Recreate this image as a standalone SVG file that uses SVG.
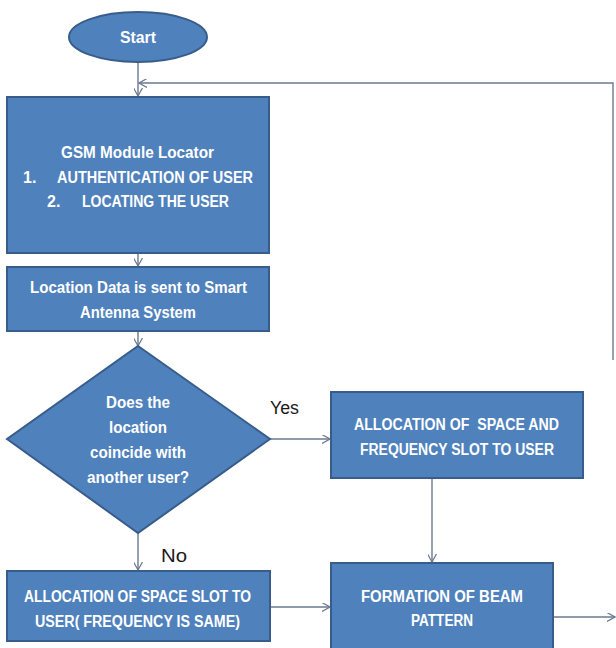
<svg xmlns="http://www.w3.org/2000/svg" width="616" height="648" viewBox="0 0 616 648">
<style>
.shape{fill:#4f81bd;stroke:#385d8a;stroke-width:2}
.t{font-family:"Liberation Sans",Arial,sans-serif;font-weight:bold;font-size:16px;fill:#ffffff;white-space:pre}
.lbl{font-family:"Liberation Sans",Arial,sans-serif;font-size:18px;fill:#1a1a1a}
.c{fill:none;stroke:#6b7a8f;stroke-width:1.4}
</style>
<defs>
<marker id="arr" viewBox="0 0 10 10" refX="9" refY="5" markerWidth="9" markerHeight="9" markerUnits="userSpaceOnUse" orient="auto">
<path d="M0,0 L9,5 L0,10" fill="none" stroke="#6b7a8f" stroke-width="1.4"/>
</marker>
</defs>
<rect width="616" height="648" fill="#ffffff"/>
<g id="connectors">
<path class="c" d="M138,63 L138,96" marker-end="url(#arr)"/>
<path class="c" d="M613,360 L613,83 L139,83" marker-end="url(#arr)"/>
<path class="c" d="M138,254 L138,266" marker-end="url(#arr)"/>
<path class="c" d="M138,332 L138,346" marker-end="url(#arr)"/>
<path class="c" d="M270,439 L330,439" marker-end="url(#arr)"/>
<path class="c" d="M432,479 L432,562" marker-end="url(#arr)"/>
<path class="c" d="M138,533 L138,570" marker-end="url(#arr)"/>
<path class="c" d="M271,607 L330,607" marker-end="url(#arr)"/>
<path class="c" d="M554,617 L615,617" marker-end="url(#arr)"/>
</g>
<g id="start">
<ellipse class="shape" cx="138" cy="37" rx="69" ry="25"/>
<text class="t" x="138" y="43" text-anchor="middle" textLength="36" lengthAdjust="spacingAndGlyphs">Start</text>
</g>
<g id="gsm">
<rect class="shape" x="7" y="97" width="262" height="156"/>
<text class="t" x="61" y="158" textLength="153" lengthAdjust="spacingAndGlyphs">GSM Module Locator</text>
<text class="t" x="23" y="183">1.</text>
<text class="t" x="57" y="183" textLength="196" lengthAdjust="spacingAndGlyphs">AUTHENTICATION OF USER</text>
<text class="t" x="47" y="207">2.</text>
<text class="t" x="82" y="207" textLength="147" lengthAdjust="spacingAndGlyphs">LOCATING THE USER</text>
</g>
<g id="location">
<rect class="shape" x="7" y="267" width="262" height="64"/>
<text class="t" x="30" y="293" textLength="217" lengthAdjust="spacingAndGlyphs">Location Data is sent to Smart</text>
<text class="t" x="80" y="318" textLength="116" lengthAdjust="spacingAndGlyphs">Antenna System</text>
</g>
<g id="decision">
<polygon class="shape" points="138,346 270,439 138,533 7,439"/>
<text class="t" x="106" y="408" textLength="64" lengthAdjust="spacingAndGlyphs">Does the</text>
<text class="t" x="109" y="433" textLength="58" lengthAdjust="spacingAndGlyphs">location</text>
<text class="t" x="90" y="458" textLength="96" lengthAdjust="spacingAndGlyphs">coincide with</text>
<text class="t" x="87" y="483" textLength="102" lengthAdjust="spacingAndGlyphs">another user?</text>
</g>
<g id="alloc-sf">
<rect class="shape" x="331" y="392" width="252" height="86"/>
<text class="t" x="354" y="430" textLength="205" lengthAdjust="spacingAndGlyphs">ALLOCATION OF  SPACE AND</text>
<text class="t" x="360" y="455" textLength="194" lengthAdjust="spacingAndGlyphs">FREQUENCY SLOT TO USER</text>
</g>
<g id="alloc-s">
<rect class="shape" x="7" y="571" width="263" height="70"/>
<text class="t" x="24" y="602" textLength="227" lengthAdjust="spacingAndGlyphs">ALLOCATION OF SPACE SLOT TO</text>
<text class="t" x="35" y="627" textLength="205" lengthAdjust="spacingAndGlyphs">USER( FREQUENCY IS SAME)</text>
</g>
<g id="beam">
<rect class="shape" x="331" y="563" width="222" height="100"/>
<text class="t" x="361" y="602" textLength="162" lengthAdjust="spacingAndGlyphs">FORMATION OF BEAM</text>
<text class="t" x="411" y="626" textLength="62" lengthAdjust="spacingAndGlyphs">PATTERN</text>
</g>
<g id="labels">
<text class="lbl" x="270" y="414" textLength="29" lengthAdjust="spacingAndGlyphs">Yes</text>
<text class="lbl" x="161" y="562" textLength="26" lengthAdjust="spacingAndGlyphs">No</text>
</g>
</svg>
